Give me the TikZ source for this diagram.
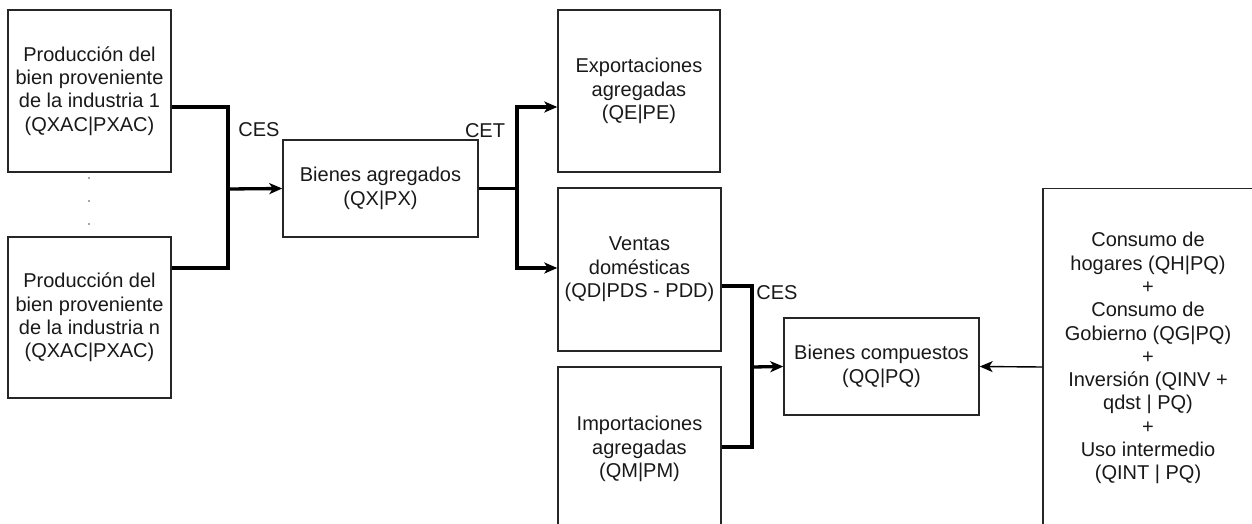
\documentclass[tikz,border=0pt]{standalone}
\usepackage{fontspec}
\setmainfont{Liberation Sans}
\usetikzlibrary{arrows.meta}
\begin{document}
\begin{tikzpicture}[x=1pt,y=-1pt,
  box/.style={draw=black!85, line width=1.4pt, align=center, inner sep=0pt,
    font=\fontsize{20}{23.3}\selectfont, text=black!90},
  conn/.style={draw=black, line width=3.3pt},
  tip/.style={-{Stealth[length=13pt,width=11pt,inset=3.5pt]}},
  lbl/.style={font=\fontsize{20}{23.3}\selectfont, text=black!90, inner sep=0pt},
  dotm/.style={circle, fill=black!70, inner sep=0pt, minimum size=1.8pt}]
\useasboundingbox (0,0) rectangle (1252,524);
\clip (0,0) rectangle (1252,524);
\fill[white] (0,0) rectangle (1252,524);

\node[box, minimum width=163pt, minimum height=162pt] (ind1) at (89.5,91)
  {Producción del\\bien proveniente\\de la industria 1\\(QXAC|PXAC)};
\node[box, minimum width=163pt, minimum height=161pt] (indn) at (89.5,317.5)
  {Producción del\\bien proveniente\\de la industria n\\(QXAC|PXAC)};
\node[dotm] (d1) at (89,178) {};
\node[dotm] (d2) at (89,201) {};
\node[dotm] (d3) at (89,224) {};

\node[box, minimum width=195pt, minimum height=97pt] (agg) at (380.5,188.5)
  {Bienes agregados\\(QX|PX)};
\node[box, minimum width=162pt, minimum height=162pt] (exp) at (639,91)
  {Exportaciones\\agregadas\\(QE|PE)};
\node[box, minimum width=163pt, minimum height=163pt] (ven) at (639.5,269.5)
  {Ventas\\domésticas\\(QD|PDS - PDD)};
\node[box, minimum width=163pt, minimum height=164pt] (imp) at (639.5,449)
  {Importaciones\\agregadas\\(QM|PM)};
\node[box, minimum width=195pt, minimum height=97pt] (comp) at (881.5,366.5)
  {Bienes compuestos\\(QQ|PQ)};
\node[box, minimum width=210pt, minimum height=339.5pt] (dem) at (1148,358.25)
  {Consumo de\\hogares (QH|PQ)\\+\\Consumo de\\Gobierno (QG|PQ)\\+\\Inversión (QINV +\\qdst | PQ)\\+\\Uso intermedio\\(QINT | PQ)};

\coordinate (j1) at (228,189);
\coordinate (j2) at (517,188.5);
\coordinate (j3) at (752,367);

\draw[conn] ([yshift=-16pt]ind1.east) -| (j1) |- ([yshift=49.5pt]indn.east);
\draw[conn, tip] (j1) -- (agg.west);

\draw[conn] (agg.east) -- (j2);
\draw[conn, tip] (j2) |- ([yshift=-16pt]exp.west);
\draw[conn, tip] (j2) |- ([yshift=1.5pt]ven.west);

\draw[conn] ([yshift=-16.5pt]ven.east) -| (j3) |- ([yshift=2pt]imp.east);
\draw[conn, tip] (j3) -- (comp.west);

\draw[line width=1.4pt, -{Stealth[length=13pt,width=11pt,inset=3.5pt]}] ([yshift=-8.75pt]dem.west) -- (comp.east);

\node[lbl] (ces1) at (259,130) {CES};
\node[lbl] (cet) at (485,131) {CET};
\node[lbl] (ces2) at (777,293) {CES};
\end{tikzpicture}
\end{document}
